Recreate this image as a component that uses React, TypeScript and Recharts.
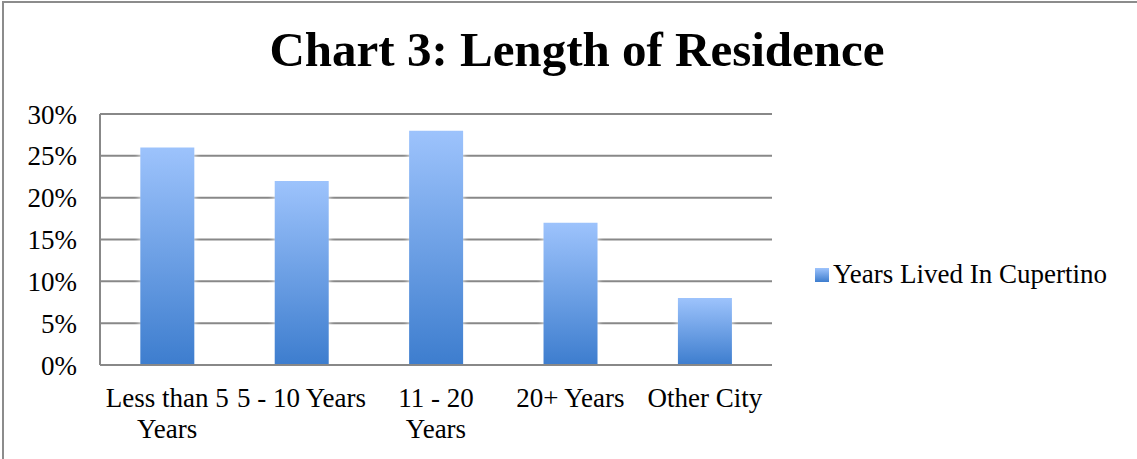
import { BarChart, Bar, XAxis, YAxis, CartesianGrid, Legend } from 'recharts'

const categories = ['Less than 5 Years', '5 - 10 Years', '11 - 20 Years', '20+ Years', 'Other City']
const yearsLived = [26, 22, 28, 17, 8]
const yTicks = [0, 5, 10, 15, 20, 25, 30]
// how Excel wrapped the category labels
const xLabelLines = [['Less than 5', 'Years'], ['5 - 10 Years'], ['11 - 20', 'Years'], ['20+ Years'], ['Other City']]
const seriesName = 'Years Lived In Cupertino'

const FONT = '"Liberation Serif", "Times New Roman", serif'
const GRID = '#888888'

const data = categories.map((name, i) => ({ name, value: yearsLived[i] }))

function CategoryTick({ x, y, index }: any) {
  const lines = xLabelLines[index] || [categories[index]]
  return (
    <text x={x} y={y} textAnchor="middle" fill="#000" style={{ fontSize: 27, fontFamily: FONT }}>
      {lines.map((line, i) => (
        <tspan key={i} x={x} y={y + 42 + i * 31}>{line}</tspan>
      ))}
    </text>
  )
}

function LegendBox() {
  return (
    <div style={{ display: 'flex', alignItems: 'center', fontFamily: FONT, fontSize: 27, color: '#000', whiteSpace: 'nowrap' }}>
      <svg width={14} height={14} style={{ marginRight: 4 }}>
        <defs>
          <linearGradient id="legendFill" x1="0" y1="0" x2="0" y2="1">
            <stop offset="0%" stopColor="#9dc3fc" />
            <stop offset="100%" stopColor="#3d7dce" />
          </linearGradient>
        </defs>
        <rect width={14} height={14} fill="url(#legendFill)" />
      </svg>
      <span>{seriesName}</span>
    </div>
  )
}

export default function App() {
  return (
    <div style={{ position: 'absolute', left: 0, top: 0, width: 1137, height: 459, background: '#fff', overflow: 'hidden' }}>
      <div style={{ position: 'absolute', left: 2, top: 1, width: 1300, height: 600, borderLeft: '2px solid #8c8c8c', borderTop: '2px solid #8c8c8c' }} />
      <div style={{ position: 'absolute', left: 0, top: 20, width: 1154, textAlign: 'center', fontFamily: FONT, fontWeight: 'bold', fontSize: 49, lineHeight: '60px', color: '#000' }}>
        Chart 3: Length of Residence
      </div>
      <div style={{ position: 'absolute', left: 0, top: 0 }}>
        <BarChart width={1137} height={459} data={data} margin={{ top: 114, right: 365, bottom: 0, left: 3 }} barCategoryGap="30%">
          <defs>
            <linearGradient id="barFill" x1="0" y1="0" x2="0" y2="1">
              <stop offset="0%" stopColor="#9dc3fc" />
              <stop offset="100%" stopColor="#3d7dce" />
            </linearGradient>
          </defs>
          <CartesianGrid vertical={false} stroke={GRID} strokeWidth={2} />
          <XAxis
            dataKey="name"
            height={94}
            axisLine={{ stroke: GRID, strokeWidth: 2 }}
            tickLine={false}
            tickSize={0}
            tickMargin={0}
            interval={0}
            tick={<CategoryTick />}
          />
          <YAxis
            width={97}
            domain={[0, 30]}
            ticks={yTicks}
            tickFormatter={(v: number) => `${v}%`}
            axisLine={{ stroke: GRID, strokeWidth: 2 }}
            tickLine={false}
            tickSize={20}
            tickMargin={3}
            tick={{ fill: '#000', fontSize: 27, fontFamily: FONT }}
          />
          <Legend
            layout="horizontal"
            align="center"
            verticalAlign="middle"
            content={<LegendBox />}
            wrapperStyle={{ left: 815, top: 259, width: 'auto' }}
          />
          <Bar
            dataKey="value"
            name={seriesName}
            fill="url(#barFill)"
            isAnimationActive={false}
            style={{ filter: 'drop-shadow(0 0 3px rgba(255,255,255,0.95))' }}
          />
        </BarChart>
      </div>
    </div>
  )
}
